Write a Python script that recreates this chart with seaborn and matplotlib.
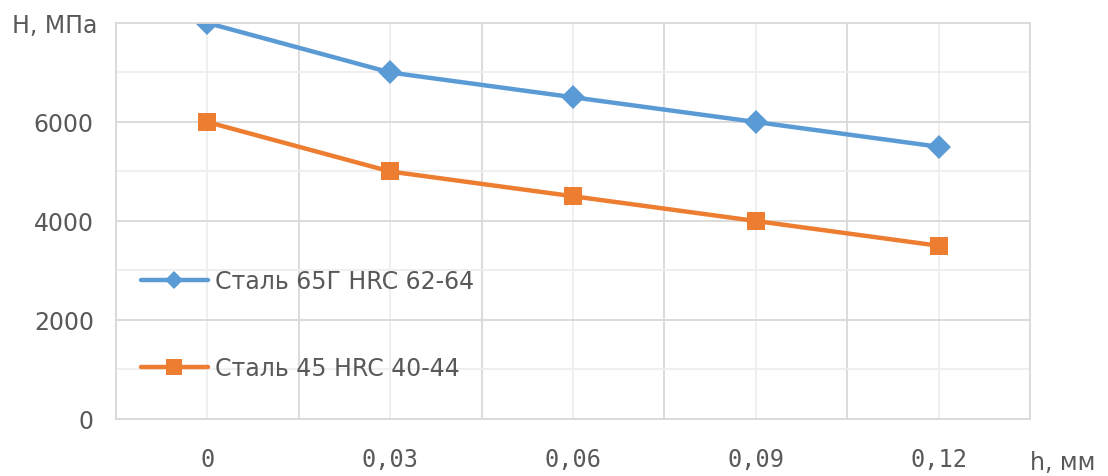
import matplotlib
matplotlib.use("Agg")
import matplotlib.pyplot as plt
from matplotlib.ticker import MultipleLocator, FixedLocator
import seaborn as sns
import pandas as pd

categories = ["0", "0,03", "0,06", "0,09", "0,12"]
steel_65g = [8000, 7000, 6500, 6000, 5500]
steel_45 = [6000, 5000, 4500, 4000, 3500]
series_names = ["Сталь 65Г HRC 62-64", "Сталь 45 HRC 40-44"]
y_ticks = [0, 2000, 4000, 6000]

df = pd.DataFrame({
    "h": categories * 2,
    "H": steel_65g + steel_45,
    "series": [series_names[0]] * len(categories) + [series_names[1]] * len(categories),
})

sns.set_theme(style="white")
plt.rcParams["font.family"] = ["DejaVu Sans"]
text_color = "#595959"

fig = plt.figure(figsize=(11.08, 4.77), dpi=100)
ax = fig.add_axes([0.1047, 0.1195, 0.8249, 0.8302])

palette = {series_names[0]: "#5B9BD5", series_names[1]: "#ED7D31"}
markers = {series_names[0]: "D", series_names[1]: "s"}
sns.lineplot(data=df, x="h", y="H", hue="series", style="series",
             palette=palette, markers=markers, dashes=False,
             linewidth=3.2, markersize=12.5, markeredgewidth=0, ax=ax, sort=False)

ax.set_xlim(-0.5, len(categories) - 0.5)
ax.set_ylim(0, 8000)
ax.xaxis.set_major_locator(FixedLocator(range(len(categories))))
ax.set_xticklabels(categories)
ax.xaxis.set_minor_locator(FixedLocator([i - 0.5 for i in range(len(categories) + 1)]))
ax.yaxis.set_major_locator(FixedLocator(y_ticks))
ax.yaxis.set_minor_locator(MultipleLocator(1000))

ax.grid(False)
ax.grid(which="minor", axis="x", color="#D9D9D9", linewidth=1.3)
ax.grid(which="major", axis="x", color="#EEEEEE", linewidth=1.3)
ax.grid(which="major", axis="y", color="#D9D9D9", linewidth=1.3)
ax.grid(which="minor", axis="y", color="#EEEEEE", linewidth=1.3)
ax.set_axisbelow(True)
for s in ax.spines.values():
    s.set_color("#D9D9D9")
    s.set_linewidth(1.3)

ax.tick_params(axis="both", which="both", length=0)
ax.tick_params(axis="y", pad=16, labelsize=17, labelcolor=text_color)
ax.tick_params(axis="x", pad=20, labelsize=17, labelcolor=text_color)
for lbl in ax.get_xticklabels():
    lbl.set_fontfamily("DejaVu Sans Mono")
ax.set_xlabel("")
ax.set_ylabel("")

fig.text(12 / 1108, 1 - 26 / 477, "H, МПа", fontsize=17, color=text_color,
         ha="left", va="center")
fig.text(1030 / 1108, 1 - 463 / 477, "h, мм", fontsize=17, color=text_color,
         ha="left", va="center")

leg = ax.legend(loc="upper left", bbox_to_anchor=(0.004, 0.433), frameon=False,
                fontsize=17, labelspacing=2.68, handlelength=2.83,
                handletextpad=0.3)
for t in leg.get_texts():
    t.set_color(text_color)
handles = leg.legend_handles
handles[0].set_markersize(9)
handles[1].set_markersize(11)

fig.savefig("out.png", dpi=100)
